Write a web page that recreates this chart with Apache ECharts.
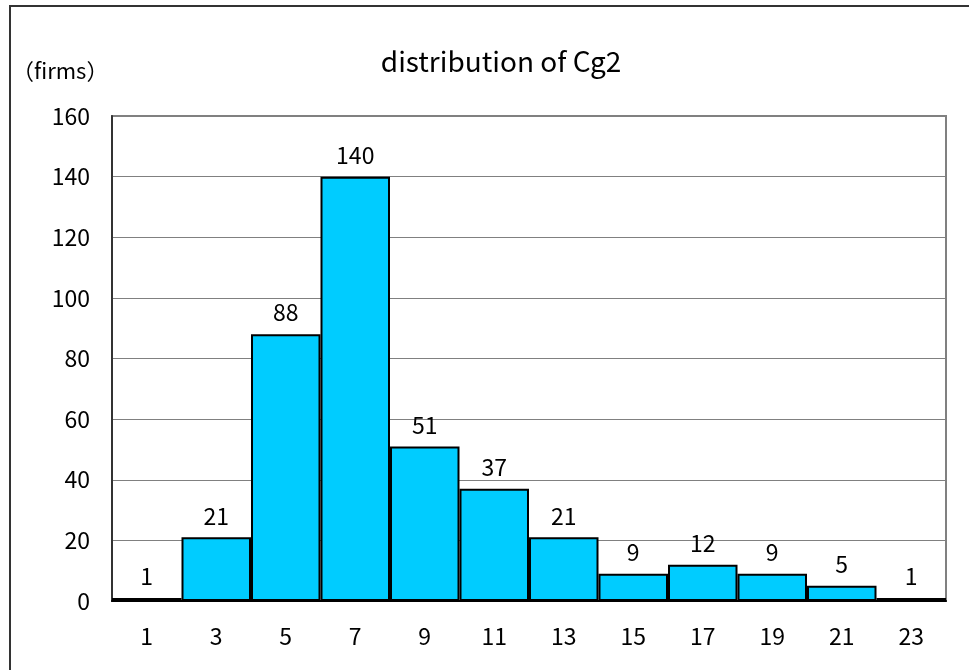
<!DOCTYPE html>
<html>
<head>
<meta charset="utf-8">
<script src="https://cdn.jsdelivr.net/npm/echarts@6/dist/echarts.min.js"></script>
<style>
  html, body { margin: 0; padding: 0; background: #fff; }
  #chart { width: 969px; height: 670px; }
</style>
</head>
<body>
<div id="chart"></div>
<script>
// histogram of Cg2 (number of firms per bin)
var categories = ['1', '3', '5', '7', '9', '11', '13', '15', '17', '19', '21', '23']
var firms = [1, 21, 88, 140, 51, 37, 21, 9, 12, 9, 5, 1]
var yTicks = [0, 20, 40, 60, 80, 100, 120, 140, 160]

var font = '"Noto Sans CJK JP", sans-serif'
var chart = echarts.init(document.getElementById('chart'))

var option = {
  animation: false,
  backgroundColor: '#fff',
  title: {
    text: 'distribution of Cg2',
    left: 496,
    top: 42,
    textAlign: 'center',
    textStyle: { fontFamily: font, fontSize: 28, fontWeight: 'normal', color: '#000' }
  },
  graphic: [
    {
      type: 'rect',
      shape: { x: 10, y: 6, width: 1000, height: 700 },
      style: { fill: 'none', stroke: '#333', lineWidth: 2 }
    },
    {
      type: 'text',
      left: 12,
      top: 60,
      style: { text: '（firms）', fontFamily: font, fontSize: 22, fill: '#000' }
    }
  ],
  grid: {
    left: 112,
    right: 23,
    top: 116,
    bottom: 69,
    show: true,
    borderColor: '#808080',
    borderWidth: 2
  },
  xAxis: {
    type: 'category',
    data: categories,
    axisLine: { lineStyle: { color: '#000', width: 2 } },
    axisTick: { show: false },
    axisLabel: { fontFamily: font, fontSize: 23, color: '#000', margin: 24 }
  },
  yAxis: {
    type: 'value',
    min: yTicks[0],
    max: yTicks[yTicks.length - 1],
    interval: 20,
    axisLine: { show: true, lineStyle: { color: '#333', width: 2 } },
    axisTick: { show: false },
    axisLabel: { fontFamily: font, fontSize: 23, color: '#000', margin: 22 },
    splitLine: { lineStyle: { color: '#808080', width: 1 } }
  },
  series: [
    {
      type: 'bar',
      data: firms,
      barWidth: '100%',
      itemStyle: { color: '#00CCFF', borderColor: '#000', borderWidth: 2 },
      label: {
        show: true,
        position: 'top',
        distance: 10,
        fontFamily: font,
        fontSize: 23,
        color: '#000'
      }
    }
  ]
}
chart.setOption(option, true)
</script>
</body>
</html>
